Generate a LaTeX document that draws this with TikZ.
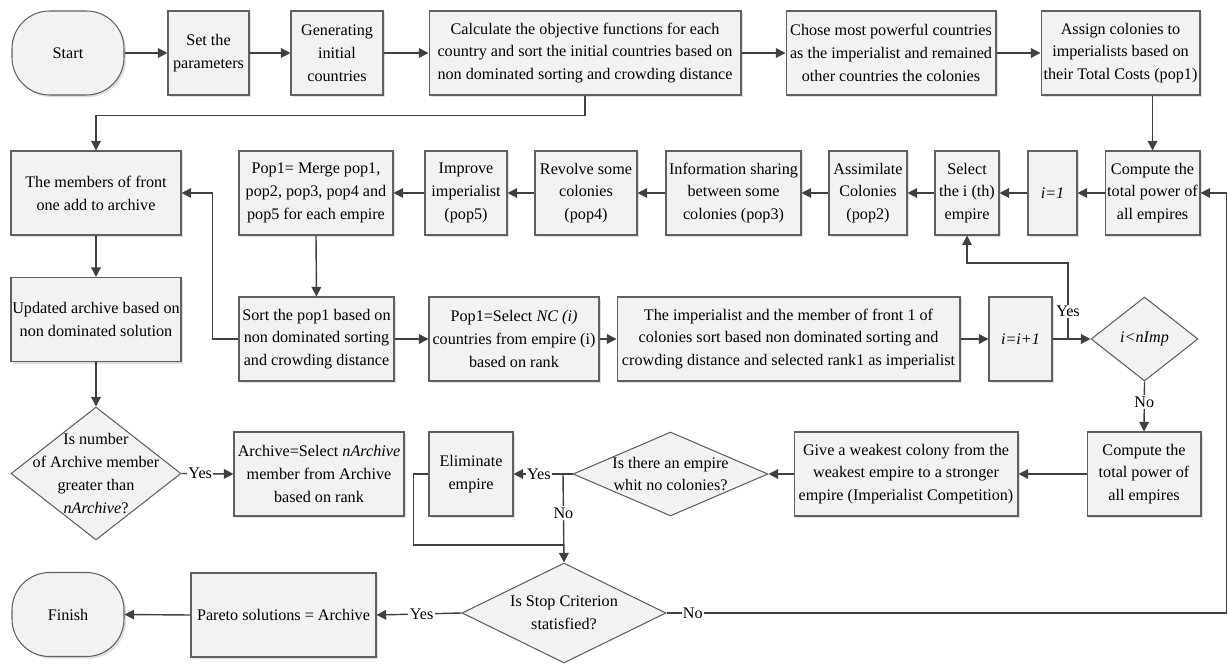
\documentclass[tikz,border=0pt]{standalone}
\usepackage{fontspec}
\setmainfont{Liberation Serif}
\usepackage{tikz}
\usetikzlibrary{shapes.geometric, arrows.meta, shadows}

\definecolor{boxfill}{RGB}{242,242,242}
\definecolor{boxline}{RGB}{96,96,96}
\definecolor{wirecol}{RGB}{64,64,64}

\begin{document}
\begin{tikzpicture}[x=0.02cm, y=-0.02cm,
    font=\fontsize{9.2}{13}\selectfont,
    box/.style={draw=boxline, fill=boxfill, line width=0.6pt, align=center,
        inner sep=0.5pt, minimum height=1.68cm,
        drop shadow={shadow xshift=1.2pt, shadow yshift=-1.2pt, fill=black!25}},
    term/.style={box, rounded corners=0.75cm},
    decision/.style={diamond, draw=boxline, fill=boxfill, line width=0.6pt,
        align=center, inner sep=-2cm},
    flow/.style={draw=wirecol, line width=0.8pt, -{Triangle[length=5.5pt, width=5.5pt]}},
    wire/.style={draw=wirecol, line width=0.8pt},
    lbl/.style={fill=white, inner sep=0.8pt}]

    \useasboundingbox (0,0) rectangle (1229,665);

    % Initialisation row
    \node[term, minimum width=2.24cm] (start) at (68,53) {Start};
    \node[box, minimum width=1.62cm] (set) at (208.5,53) {Set the\\parameters};
    \node[box, minimum width=1.84cm] (gen) at (337,53) {Generating\\initial\\countries};
    \node[box, minimum width=6.24cm] (calc) at (585,53) {Calculate the objective functions for each\\country and sort the initial countries based on\\non dominated sorting and crowding distance};
    \node[box, minimum width=4.2cm] (chose) at (891,53) {Chose most powerful countries\\as the imperialist and remained\\other countries the colonies};
    \node[box, minimum width=3.18cm] (assign) at (1120.5,53) {Assign colonies to\\imperialists based on\\their Total Costs (pop1)};

    % Moves inside one empire (right to left)
    \node[box, minimum width=3.4cm] (members) at (96,193) {The members of front\\one add to archive};
    \node[box, minimum width=3.08cm] (merge) at (316,193) {Pop1= Merge pop1,\\pop2, pop3, pop4 and\\pop5 for each empire};
    \node[box, minimum width=1.64cm] (improve) at (466,193) {Improve\\imperialist\\(pop5)};
    \node[box, minimum width=2.04cm] (revolve) at (586,193) {Revolve some\\colonies\\(pop4)};
    \node[box, minimum width=2.7cm] (share) at (733.5,193) {Information sharing\\between some\\colonies (pop3)};
    \node[box, minimum width=1.56cm] (assim) at (868,193) {Assimilate\\Colonies\\(pop2)};
    \node[box, minimum width=1.28cm] (select) at (967,193) {Select\\the i (th)\\empire};
    \node[box, minimum width=0.98cm] (ione) at (1052.5,193) {\textit{i=1}};
    \node[box, minimum width=1.9cm] (power) at (1152.5,193) {Compute the\\total power of\\all empires};

    % Sorting and next empire
    \node[box, minimum width=3.4cm] (updated) at (96,319.5) {Updated archive based on\\non dominated solution};
    \node[box, minimum width=3.1cm] (sort) at (316.5,339) {Sort the pop1 based on\\non dominated sorting\\and crowding distance};
    \node[box, minimum width=3.4cm] (selnc) at (514,339) {Pop1=Select \textit{NC (i)}\\countries from empire (i)\\based on rank};
    \node[box, minimum width=6.86cm] (imper) at (788.5,339) {The imperialist and the member of front 1 of\\colonies sort based non dominated sorting and\\crowding distance and selected rank1 as imperialist};
    \node[box, minimum width=1.26cm] (inc) at (1020.5,339) {\textit{i=i+1}};
    \node[decision, minimum width=2.14cm, minimum height=1.68cm] (iq) at (1144.5,339) {\textit{i<nImp}};

    % Archive and competition
    \node[decision, minimum width=3.4cm, minimum height=2.66cm] (archq) at (96,473.5) {Is number\\of Archive member\\greater than\\\textit{nArchive}?};
    \node[box, minimum width=3.4cm] (archsel) at (319,474) {Archive=Select \textit{nArchive}\\member from Archive\\based on rank};
    \node[box, minimum width=1.68cm] (elim) at (471,474) {Eliminate\\empire};
    \node[decision, minimum width=3.9cm, minimum height=1.68cm] (emptyq) at (670.5,474) {Is there an empire\\whit no colonies?};
    \node[box, minimum width=4.48cm] (give) at (906,474) {Give a weakest colony from the\\weakest empire to a stronger\\empire (Imperialist Competition)};
    \node[box, minimum width=2.28cm] (power2) at (1144,474) {Compute the\\total power of\\all empires};

    % Stopping
    \node[term, minimum width=2.24cm] (finish) at (68,614.5) {Finish};
    \node[box, minimum width=3.7cm] (pareto) at (283.5,615) {Pareto solutions = Archive};
    \node[decision, minimum width=4.08cm, minimum height=2cm] (stopq) at (564,613) {Is Stop Criterion\\statisfied?};

    % Branch points
    \coordinate (ybr) at (1068,339);
    \coordinate (nobr) at (563,474);
    \coordinate (jn) at (563,545);

    % Arrows
    \draw[flow] (start.east) -- (set.west);
    \draw[flow] (set.east) -- (gen.west);
    \draw[flow] (gen.east) -- (calc.west);
    \draw[flow] (calc.east) -- (chose.west);
    \draw[flow] (chose.east) -- (assign.west);
    \draw[flow] (calc.south) -- ++(0,20) -| (members.north);
    \draw[flow] (assign.south -| power.north) -- (power.north);

    \draw[flow] (power.west) -- (ione.east);
    \draw[flow] (ione.west) -- (select.east);
    \draw[flow] (select.west) -- (assim.east);
    \draw[flow] (assim.west) -- (share.east);
    \draw[flow] (share.west) -- (revolve.east);
    \draw[flow] (revolve.west) -- (improve.east);
    \draw[flow] (improve.west) -- (merge.east);
    \draw[flow] (merge.south) -- (sort.north);
    \draw[flow] (sort.west) -- ++(-26,0) |- (members.east);
    \draw[flow] (members.south) -- (updated.north);
    \draw[flow] (updated.south) -- (archq.north);

    \draw[flow] (sort.east) -- (selnc.west);
    \draw[flow] (selnc.east) -- (imper.west);
    \draw[flow] (imper.east) -- (inc.west);
    \draw[flow] (inc.east) -- (iq.west);
    \draw[flow] (ybr) -- node[lbl, pos=0.36] {Yes} ++(0,-76) -| (select.south);
    \draw[flow] (iq.south) -- node[lbl, pos=0.41] {No} (power2.north);

    \draw[flow] (archq.east) -- node[lbl, pos=0.36] {Yes} (archsel.west);
    \draw[flow] (power2.west) -- (give.east);
    \draw[flow] (give.west) -- (emptyq.east);
    \draw[flow] (emptyq.west) -- node[lbl, pos=0.57] {Yes} (elim.east);
    \draw[flow] (nobr) -- node[lbl, pos=0.44] {No} (stopq.north);
    \draw[wire] (elim.west) -- ++(-15,0) |- (jn);

    \draw[flow] (stopq.west) -- node[lbl, pos=0.47] {Yes} (pareto.east);
    \draw[flow] (pareto.west) -- (finish.east);
    \draw[flow] (stopq.east) -- node[lbl, pos=0.047] {No} ++(560,0) |- (power.east);
\end{tikzpicture}
\end{document}
